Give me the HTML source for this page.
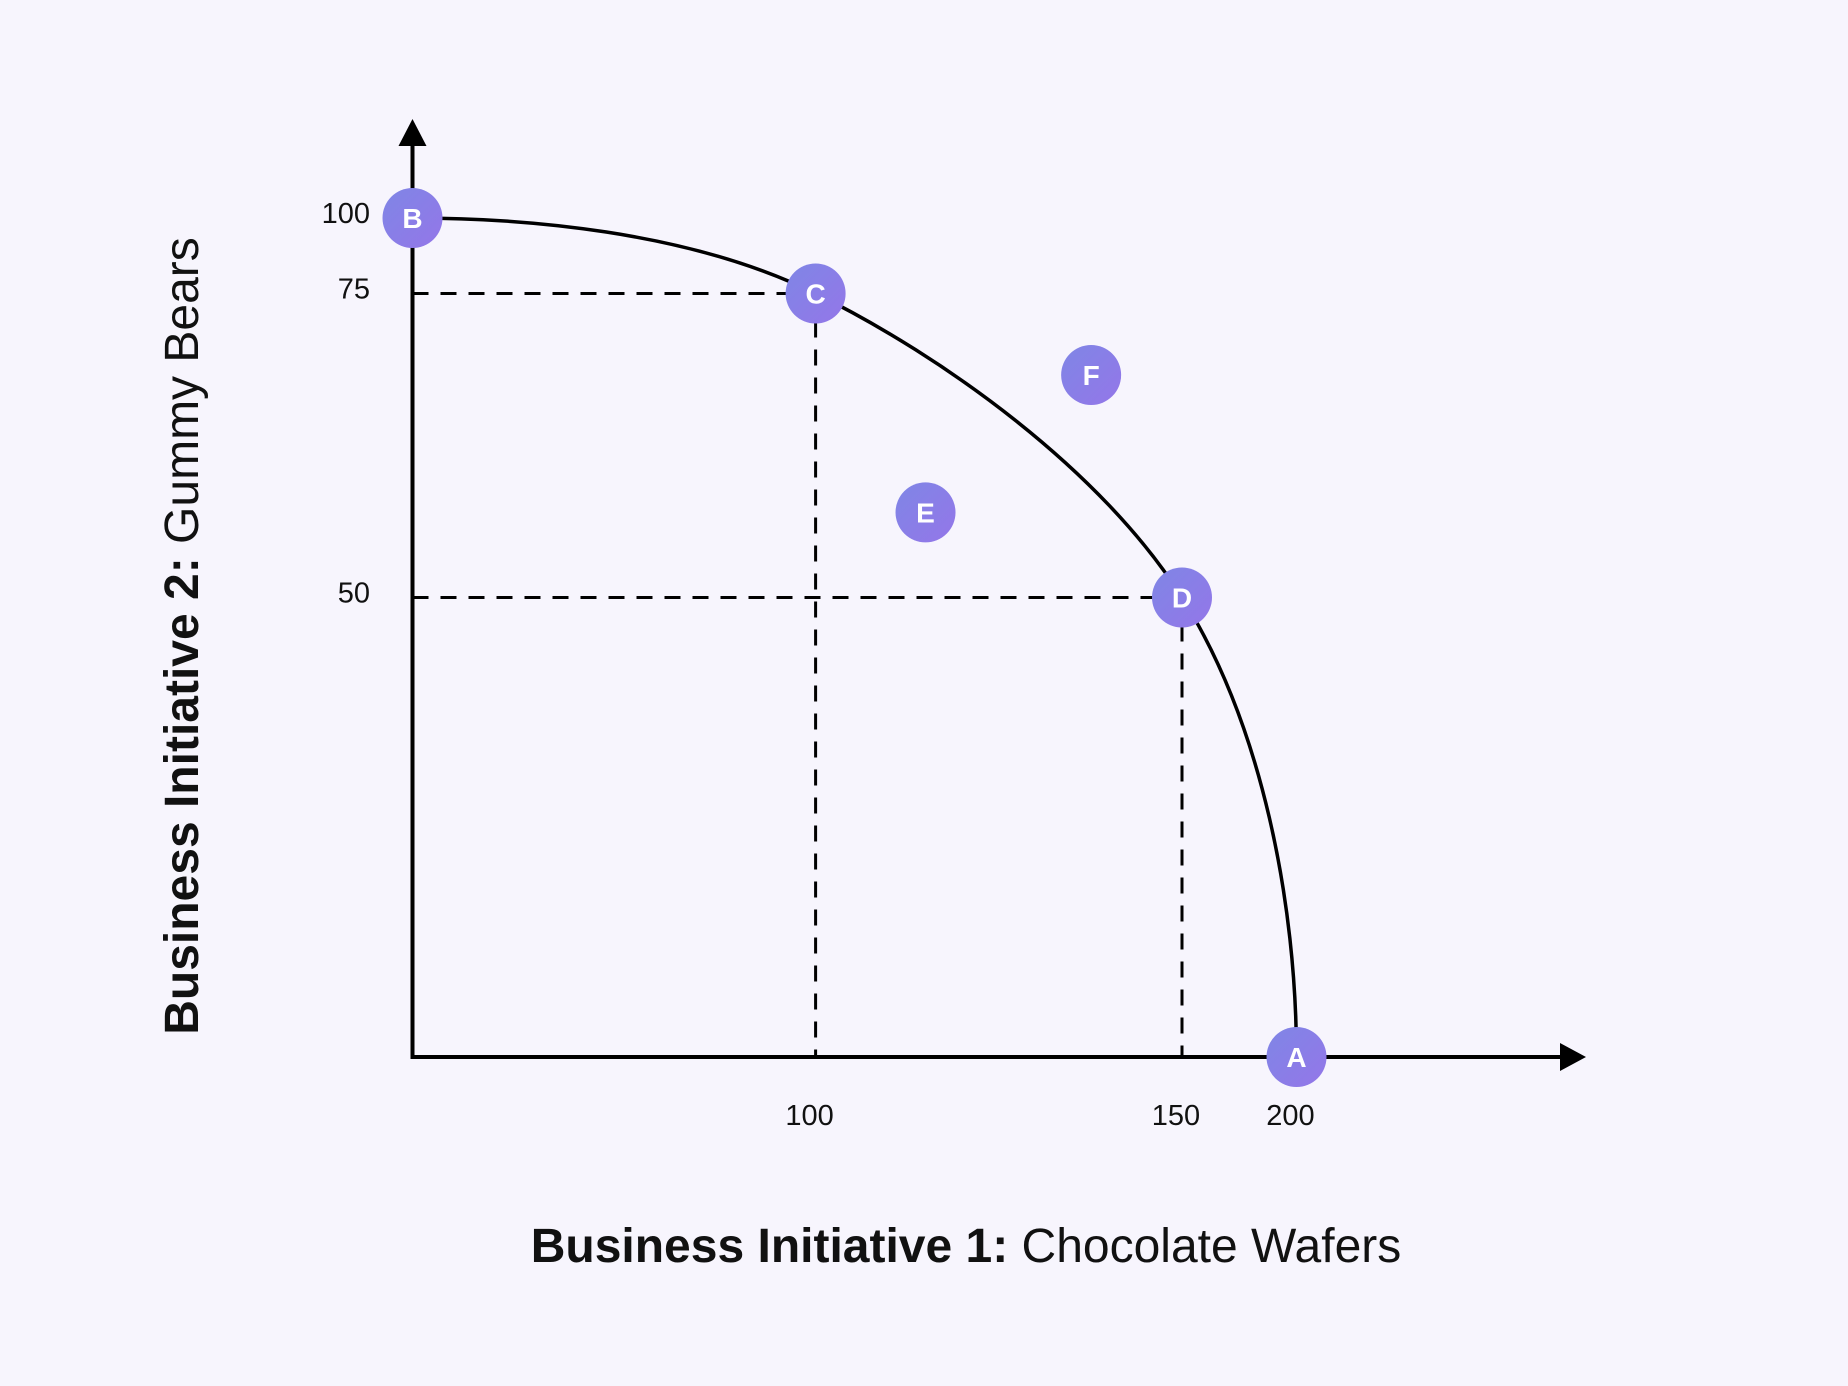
<!DOCTYPE html>
<html><head><meta charset="utf-8">
<style>
html,body{margin:0;padding:0;background:#f7f5fd;}
svg{display:block;}
text{font-family:"Liberation Sans",sans-serif;}
</style></head>
<body>
<svg id="chart" width="1848" height="1386" viewBox="0 0 1848 1386">
<defs>
<linearGradient id="pg" x1="0" y1="0" x2="1" y2="1">
<stop offset="0" stop-color="#7f86e6"/><stop offset="1" stop-color="#9476e8"/>
</linearGradient>
</defs>
<rect width="1848" height="1386" fill="#f7f5fd"/>
<g id="guides"></g>
<g id="axes"></g>
<g id="curve"></g>
<g id="points"></g>
<text x="966" y="1262" text-anchor="middle" font-size="48" fill="#111"><tspan font-weight="bold">Business Initiative 1:</tspan> Chocolate Wafers</text>
<text transform="translate(198,636) rotate(-90)" text-anchor="middle" font-size="48" fill="#111"><tspan font-weight="bold">Business Initiative 2:</tspan> Gummy Bears</text>
</svg>
<script>
const xTicks=[100,150,200];
const yTicks=[50,75,100];
const curveX=[0,100,150,200];
const curveY=[100,75,50,0];
const pointLabels=["A","B","C","D","E","F"];
const pointX=[200,0,100,150,115,137.6];
const pointY=[0,100,75,50,57,68.3];
const guideX=[100,150];
const guideY=[75,50];

// piecewise axis scales (the reference axes are not linear)
const xDom=[0,100,150,200], xRng=[412.5,815.6,1182,1296.5];
const yDom=[0,50,75,100], yRng=[1057,597.5,293.5,218];
function pw(v,d,r){
  let i=0; while(i<d.length-2 && v>d[i+1]) i++;
  return r[i]+(v-d[i])/(d[i+1]-d[i])*(r[i+1]-r[i]);
}
const sx=v=>pw(v,xDom,xRng), sy=v=>pw(v,yDom,yRng);
const NS="http://www.w3.org/2000/svg";
function mk(tag,attrs,parent){const e=document.createElementNS(NS,tag);for(const k in attrs)e.setAttribute(k,attrs[k]);parent.appendChild(e);return e;}
const ox=sx(0), oy=sy(0);
const axes=document.getElementById('axes');
let a=mk('line',{x1:ox,y1:oy,x2:ox,y2:140,stroke:'#000','stroke-width':4},axes);


a=mk('polygon',{points:`${ox-14},146 ${ox+14},146 ${ox},119`,fill:'#000'},axes);


a=mk('line',{x1:ox-2,y1:oy,x2:1565,y2:oy,stroke:'#000','stroke-width':4},axes);


a=mk('polygon',{points:`1560,${oy-14} 1560,${oy+14} 1586,${oy}`,fill:'#000'},axes);


xTicks.forEach(t=>{
  const e=mk('text',{x:sx(t)-6,y:1125,'text-anchor':'middle','font-size':29,fill:'#111'},axes);
  e.textContent=t;
  
  
});
yTicks.forEach(t=>{
  const e=mk('text',{x:370,y:sy(t)+5,'text-anchor':'end','font-size':29,fill:'#111'},axes);
  e.textContent=t;
  
  
});
const guides=document.getElementById('guides');
guideX.forEach((gx,i)=>{
  const gy=guideY[i];
  let e=mk('line',{x1:ox,y1:sy(gy),x2:sx(gx),y2:sy(gy),stroke:'#000','stroke-width':3,'stroke-dasharray':'16 12'},guides);
  
  
  e=mk('line',{x1:sx(gx),y1:sy(gy),x2:sx(gx),y2:oy,stroke:'#000','stroke-width':3,'stroke-dasharray':'16 12'},guides);
  
  
});
const P=curveX.map((x,i)=>[sx(x),sy(curveY[i])]);
const n=P.length;
const T=P.map((p,i)=>{
  if(i===0) return [(P[1][0]-P[0][0])*0.8,0];
  if(i===n-1) return [0,(P[n-1][1]-P[n-2][1])];
  return [(P[i+1][0]-P[i-1][0])/2,(P[i+1][1]-P[i-1][1])/2];
});
let d=`M${P[0][0]},${P[0][1]}`;
for(let i=0;i<n-1;i++){
  const c1=[P[i][0]+T[i][0]/3,P[i][1]+T[i][1]/3];
  const c2=[P[i+1][0]-T[i+1][0]/3,P[i+1][1]-T[i+1][1]/3];
  d+=` C${c1[0]},${c1[1]} ${c2[0]},${c2[1]} ${P[i+1][0]},${P[i+1][1]}`;
}
const cv=mk('path',{d:d,fill:'none',stroke:'#000','stroke-width':3.5},document.getElementById('curve'));


const pts=document.getElementById('points');
pointLabels.forEach((lab,i)=>{
  const g=mk('g',{},pts);
  
  
  mk('circle',{cx:sx(pointX[i]),cy:sy(pointY[i]),r:30,fill:'url(#pg)'},g);
  const t=mk('text',{x:sx(pointX[i]),y:sy(pointY[i])+10,'text-anchor':'middle','font-size':28,'font-weight':'bold',fill:'#fff'},g);
  t.textContent=lab;
});
</script>
</body></html>
